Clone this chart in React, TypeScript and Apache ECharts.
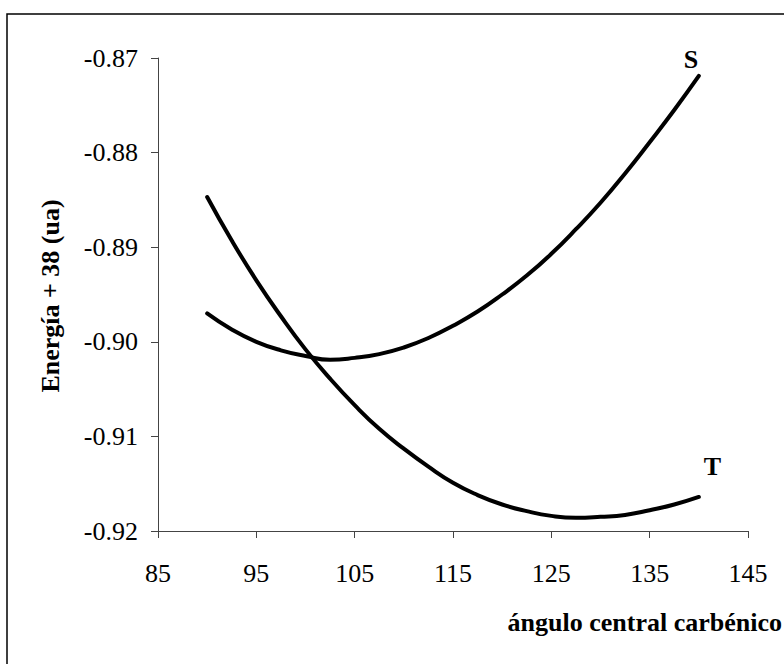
import React, { useEffect, useRef } from "react";
import * as echarts from "echarts";

const angles = [90, 92.5, 95, 97.5, 100, 102.5, 105, 107.5, 110, 112.5, 115, 117.5, 120, 122.5, 125, 127.5, 130, 132.5, 135, 137.5, 140];
const energyS = [-0.8970, -0.8987, -0.9000, -0.9009, -0.9015, -0.9019, -0.9017, -0.9013, -0.9006, -0.8996, -0.8983, -0.8968, -0.8950, -0.8930, -0.8907, -0.8881, -0.8853, -0.8822, -0.8789, -0.8755, -0.8719];
const energyT = [-0.8847, -0.8893, -0.8935, -0.8973, -0.9008, -0.9039, -0.9067, -0.9092, -0.9113, -0.9132, -0.9149, -0.9162, -0.9172, -0.9179, -0.9184, -0.9186, -0.9185, -0.9183, -0.9178, -0.9172, -0.9164];
const xTicks = { min: 85, max: 145, interval: 10 };
const yTicks = { min: -0.92, max: -0.87, interval: 0.01 };
const xTitle = "ángulo central carbénico";
const yTitle = "Energía + 38 (ua)";
const labelS = "S";
const labelT = "T";

const FONT = "Liberation Serif, Times New Roman, serif";

export default function App() {
  const ref = useRef<HTMLDivElement>(null);
  useEffect(() => {
    const chart = echarts.init(ref.current!, null, { renderer: "svg" });
    const mk = (ys: number[]) => angles.map((a, i) => [a, ys[i]]);
    chart.setOption({
      animation: false,
      backgroundColor: "#ffffff",
      textStyle: { fontFamily: FONT },
      grid: { left: 158, right: 36, top: 58, bottom: 133, containLabel: false },
      xAxis: {
        type: "value",
        min: xTicks.min,
        max: xTicks.max,
        interval: xTicks.interval,
        splitLine: { show: false },
        axisLine: { show: true, lineStyle: { color: "#444", width: 1 } },
        axisTick: { show: true, inside: false, length: 7, lineStyle: { color: "#444" } },
        axisLabel: { color: "#000", fontSize: 26, fontFamily: FONT, margin: 29 },
      },
      yAxis: {
        type: "value",
        min: yTicks.min,
        max: yTicks.max,
        interval: yTicks.interval,
        splitLine: { show: false },
        axisLine: { show: true, lineStyle: { color: "#444", width: 1 } },
        axisTick: { show: true, inside: false, length: 7, lineStyle: { color: "#444" } },
        axisLabel: {
          color: "#000",
          fontSize: 26,
          fontFamily: FONT,
          margin: 20,
          formatter: (v: number) => v.toFixed(2),
        },
      },
      series: [
        {
          type: "line",
          data: mk(energyS),
          smooth: 0.5,
          showSymbol: false,
          lineStyle: { color: "#000", width: 4, cap: "round" },
          endLabel: {
            show: true,
            formatter: labelS,
            fontFamily: FONT,
            fontWeight: "bold",
            fontSize: 26,
            color: "#000",
            offset: [-23, -16],
          },
        },
        {
          type: "line",
          data: mk(energyT),
          smooth: 0.5,
          showSymbol: false,
          lineStyle: { color: "#000", width: 4, cap: "round" },
          endLabel: {
            show: true,
            formatter: labelT,
            fontFamily: FONT,
            fontWeight: "bold",
            fontSize: 26,
            color: "#000",
            offset: [-3, -30],
          },
        },
      ],
      graphic: [
        {
          type: "rect",
          shape: { x: 7, y: 14, width: 820, height: 700 },
          style: { fill: "none", stroke: "#000", lineWidth: 1.5 },
          silent: true,
        },
        {
          type: "text",
          x: 782,
          y: 622,
          style: {
            text: xTitle,
            fontFamily: FONT,
            fontWeight: "bold",
            fontSize: 26,
            fill: "#000",
            align: "right",
            verticalAlign: "middle",
          },
        },
        {
          type: "text",
          x: 50,
          y: 296,
          rotation: Math.PI / 2,
          style: {
            text: yTitle,
            fontFamily: FONT,
            fontWeight: "bold",
            fontSize: 26,
            fill: "#000",
            align: "center",
            verticalAlign: "middle",
          },
        },
      ],
    });
    return () => chart.dispose();
  }, []);
  return (
    <div
      ref={ref}
      style={{ position: "fixed", left: 0, top: 0, width: 784, height: 664, background: "#fff" }}
    />
  );
}
